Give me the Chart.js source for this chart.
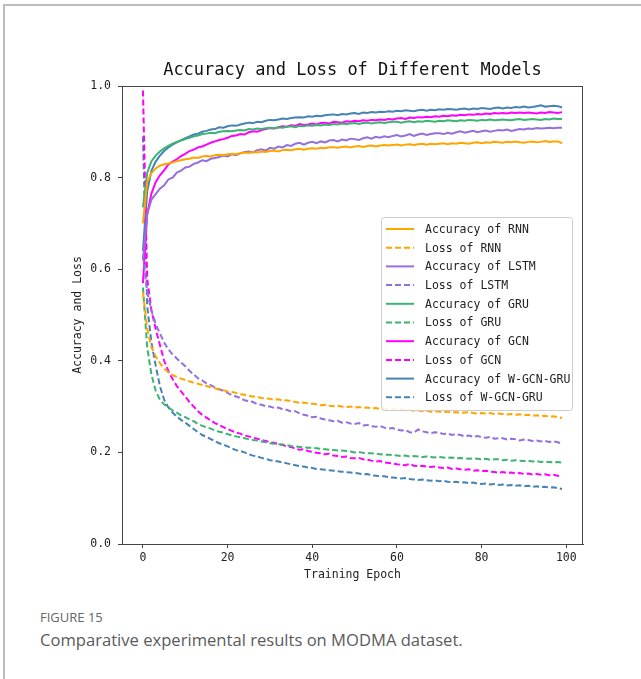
<!DOCTYPE html>
<html>
<head>
<meta charset="utf-8">
<script src="https://cdn.jsdelivr.net/npm/chart.js@4.4.1/dist/chart.umd.min.js"></script>
<style>
  html, body { margin: 0; padding: 0; background: #fff; }
  #page { position: relative; width: 641px; height: 679px; overflow: hidden; }
  #frame { position: absolute; left: 3px; top: 4px; width: 660px; height: 700px;
           border-left: 2px solid #bdbdbd; border-top: 2px solid #bdbdbd; }
  #chartBox { position: absolute; left: 0; top: 0; width: 641px; height: 600px; }
  .figno { position: absolute; left: 40px; top: 608px; font: 13px "Open Sans", sans-serif; color: #666; }
  .figcap { position: absolute; left: 40px; top: 628px; font: 16.6px "Open Sans", sans-serif; color: #5a5a5a; }
</style>
</head>
<body>
<div id="page">
  <div id="frame"></div>
  <div id="chartBox"><canvas id="lossChart" width="641" height="600"></canvas></div>
  <div class="figno">FIGURE 15</div>
  <div class="figcap">Comparative experimental results on MODMA dataset.</div>
</div>
<script>
// --- Data (epoch index = position in array) ---
const seriesNames = ['Accuracy of RNN', 'Loss of RNN', 'Accuracy of LSTM', 'Loss of LSTM',
    'Accuracy of GRU', 'Loss of GRU', 'Accuracy of GCN', 'Loss of GCN',
    'Accuracy of W-GCN-GRU', 'Loss of W-GCN-GRU'];
const xTicks = [0, 20, 40, 60, 80, 100];
const yTicks = [0.0, 0.2, 0.4, 0.6, 0.8, 1.0];

const accRNN = [
    0.700, 0.790, 0.810, 0.820, 0.826, 0.829, 0.831, 0.833, 0.836, 0.838,
    0.840, 0.841, 0.844, 0.843, 0.846, 0.847, 0.846, 0.849, 0.850, 0.849,
    0.851, 0.852, 0.851, 0.853, 0.855, 0.854, 0.856, 0.855, 0.857, 0.856,
    0.858, 0.859, 0.857, 0.860, 0.861, 0.860, 0.862, 0.863, 0.861, 0.863,
    0.864, 0.863, 0.865, 0.864, 0.866, 0.866, 0.865, 0.867, 0.868, 0.866,
    0.868, 0.869, 0.867, 0.869, 0.870, 0.868, 0.870, 0.871, 0.870, 0.871,
    0.872, 0.870, 0.872, 0.873, 0.871, 0.873, 0.874, 0.872, 0.874, 0.873,
    0.874, 0.875, 0.873, 0.875, 0.874, 0.876, 0.875, 0.874, 0.876, 0.877,
    0.875, 0.877, 0.876, 0.878, 0.877, 0.876, 0.878, 0.877, 0.879, 0.877,
    0.876, 0.878, 0.879, 0.877, 0.878, 0.880, 0.878, 0.879, 0.879, 0.875];
const lossRNN = [
    0.550, 0.470, 0.430, 0.410, 0.395, 0.383, 0.375, 0.369, 0.365, 0.361,
    0.358, 0.355, 0.352, 0.350, 0.347, 0.345, 0.342, 0.340, 0.337, 0.336,
    0.333, 0.332, 0.330, 0.327, 0.326, 0.323, 0.322, 0.321, 0.319, 0.318,
    0.317, 0.315, 0.316, 0.313, 0.314, 0.312, 0.310, 0.308, 0.309, 0.307,
    0.306, 0.305, 0.303, 0.304, 0.302, 0.301, 0.302, 0.300, 0.299, 0.300,
    0.298, 0.299, 0.297, 0.298, 0.296, 0.297, 0.295, 0.296, 0.294, 0.295,
    0.293, 0.294, 0.292, 0.293, 0.291, 0.292, 0.290, 0.291, 0.289, 0.290,
    0.289, 0.288, 0.289, 0.287, 0.288, 0.286, 0.287, 0.288, 0.286, 0.285,
    0.286, 0.285, 0.286, 0.284, 0.285, 0.284, 0.283, 0.284, 0.282, 0.283,
    0.281, 0.282, 0.280, 0.281, 0.279, 0.280, 0.278, 0.279, 0.277, 0.275];
const accLSTM = [
    0.620, 0.720, 0.752, 0.764, 0.776, 0.783, 0.796, 0.800, 0.811, 0.815,
    0.822, 0.824, 0.830, 0.833, 0.838, 0.836, 0.841, 0.843, 0.845, 0.848,
    0.846, 0.851, 0.849, 0.853, 0.856, 0.857, 0.855, 0.860, 0.862, 0.859,
    0.865, 0.863, 0.868, 0.866, 0.871, 0.869, 0.874, 0.876, 0.872, 0.876,
    0.878, 0.875, 0.879, 0.877, 0.881, 0.882, 0.879, 0.883, 0.881, 0.885,
    0.884, 0.882, 0.886, 0.888, 0.885, 0.889, 0.887, 0.890, 0.888, 0.891,
    0.893, 0.890, 0.892, 0.895, 0.891, 0.894, 0.896, 0.893, 0.895, 0.897,
    0.897, 0.895, 0.898, 0.896, 0.899, 0.901, 0.898, 0.900, 0.902, 0.899,
    0.901, 0.903, 0.900, 0.902, 0.904, 0.903, 0.905, 0.902, 0.904, 0.906,
    0.905, 0.907, 0.906, 0.908, 0.907, 0.908, 0.909, 0.908, 0.909, 0.909];
const lossLSTM = [
    0.630, 0.550, 0.510, 0.480, 0.460, 0.440, 0.425, 0.414, 0.405, 0.396,
    0.388, 0.378, 0.370, 0.362, 0.357, 0.351, 0.347, 0.342, 0.338, 0.334,
    0.330, 0.325, 0.322, 0.319, 0.314, 0.312, 0.310, 0.305, 0.304, 0.301,
    0.300, 0.297, 0.298, 0.294, 0.293, 0.289, 0.290, 0.285, 0.282, 0.280,
    0.277, 0.278, 0.274, 0.272, 0.270, 0.268, 0.269, 0.265, 0.266, 0.263,
    0.262, 0.264, 0.259, 0.260, 0.257, 0.256, 0.258, 0.254, 0.252, 0.253,
    0.250, 0.248, 0.249, 0.244, 0.243, 0.250, 0.246, 0.244, 0.242, 0.244,
    0.243, 0.240, 0.241, 0.238, 0.240, 0.238, 0.235, 0.237, 0.234, 0.236,
    0.233, 0.232, 0.234, 0.230, 0.231, 0.231, 0.228, 0.230, 0.229, 0.226,
    0.228, 0.227, 0.225, 0.226, 0.224, 0.225, 0.223, 0.224, 0.222, 0.219];
const accGRU = [
    0.735, 0.810, 0.836, 0.848, 0.857, 0.864, 0.869, 0.874, 0.878, 0.881,
    0.884, 0.887, 0.890, 0.892, 0.895, 0.896, 0.898, 0.897, 0.900, 0.901,
    0.902, 0.901, 0.903, 0.904, 0.903, 0.906, 0.905, 0.907, 0.906, 0.908,
    0.909, 0.908, 0.910, 0.909, 0.911, 0.912, 0.910, 0.913, 0.912, 0.914,
    0.913, 0.915, 0.914, 0.916, 0.915, 0.917, 0.916, 0.918, 0.917, 0.918,
    0.919, 0.917, 0.919, 0.920, 0.918, 0.920, 0.921, 0.919, 0.921, 0.922,
    0.922, 0.920, 0.922, 0.923, 0.921, 0.923, 0.922, 0.924, 0.923, 0.922,
    0.924, 0.923, 0.925, 0.924, 0.923, 0.925, 0.924, 0.926, 0.925, 0.924,
    0.926, 0.925, 0.927, 0.925, 0.926, 0.927, 0.926, 0.925, 0.927, 0.928,
    0.926, 0.927, 0.928, 0.927, 0.926, 0.928, 0.927, 0.929, 0.928, 0.928];
const lossGRU = [
    0.560, 0.430, 0.370, 0.335, 0.315, 0.305, 0.298, 0.292, 0.287, 0.281,
    0.277, 0.272, 0.268, 0.262, 0.258, 0.255, 0.252, 0.248, 0.245, 0.243,
    0.240, 0.237, 0.235, 0.233, 0.231, 0.229, 0.227, 0.226, 0.224, 0.222,
    0.220, 0.219, 0.218, 0.217, 0.216, 0.214, 0.213, 0.212, 0.211, 0.210,
    0.210, 0.209, 0.208, 0.207, 0.206, 0.205, 0.204, 0.204, 0.203, 0.202,
    0.200, 0.201, 0.199, 0.198, 0.198, 0.197, 0.196, 0.195, 0.195, 0.194,
    0.193, 0.192, 0.193, 0.191, 0.192, 0.191, 0.190, 0.191, 0.190, 0.189,
    0.190, 0.189, 0.188, 0.189, 0.187, 0.188, 0.187, 0.186, 0.187, 0.186,
    0.185, 0.186, 0.184, 0.185, 0.185, 0.183, 0.184, 0.182, 0.183, 0.182,
    0.181, 0.182, 0.180, 0.181, 0.179, 0.180, 0.179, 0.178, 0.179, 0.178];
const accGCN = [
    0.570, 0.720, 0.765, 0.790, 0.805, 0.816, 0.829, 0.835, 0.840, 0.847,
    0.852, 0.858, 0.861, 0.866, 0.868, 0.872, 0.876, 0.879, 0.882, 0.884,
    0.887, 0.891, 0.892, 0.895, 0.894, 0.899, 0.901, 0.900, 0.904, 0.906,
    0.908, 0.907, 0.910, 0.912, 0.911, 0.914, 0.913, 0.917, 0.915, 0.916,
    0.918, 0.916, 0.919, 0.920, 0.918, 0.922, 0.921, 0.920, 0.923, 0.922,
    0.924, 0.923, 0.925, 0.924, 0.926, 0.925, 0.927, 0.926, 0.928, 0.927,
    0.929, 0.930, 0.928, 0.931, 0.930, 0.932, 0.931, 0.933, 0.932, 0.934,
    0.933, 0.935, 0.934, 0.936, 0.935, 0.937, 0.936, 0.938, 0.937, 0.939,
    0.938, 0.940, 0.939, 0.941, 0.940, 0.941, 0.940, 0.942, 0.941, 0.942,
    0.941, 0.942, 0.941, 0.940, 0.942, 0.941, 0.943, 0.942, 0.941, 0.943];
const lossGCN = [
    0.990, 0.580, 0.510, 0.470, 0.435, 0.400, 0.378, 0.360, 0.345, 0.333,
    0.322, 0.310, 0.300, 0.290, 0.282, 0.276, 0.270, 0.264, 0.260, 0.255,
    0.251, 0.247, 0.243, 0.241, 0.237, 0.235, 0.232, 0.230, 0.227, 0.225,
    0.222, 0.221, 0.218, 0.216, 0.213, 0.212, 0.208, 0.206, 0.207, 0.203,
    0.201, 0.199, 0.198, 0.196, 0.197, 0.193, 0.192, 0.190, 0.191, 0.188,
    0.187, 0.188, 0.185, 0.184, 0.182, 0.180, 0.181, 0.178, 0.177, 0.176,
    0.174, 0.173, 0.172, 0.175, 0.171, 0.170, 0.171, 0.169, 0.168, 0.169,
    0.167, 0.166, 0.167, 0.164, 0.165, 0.163, 0.162, 0.163, 0.160, 0.161,
    0.159, 0.160, 0.158, 0.157, 0.156, 0.157, 0.155, 0.156, 0.154, 0.155,
    0.153, 0.154, 0.152, 0.153, 0.151, 0.152, 0.150, 0.151, 0.149, 0.148];
const accWGCNGRU = [
    0.640, 0.770, 0.815, 0.835, 0.848, 0.858, 0.866, 0.872, 0.877, 0.882,
    0.886, 0.890, 0.894, 0.896, 0.900, 0.902, 0.905, 0.906, 0.910, 0.909,
    0.912, 0.914, 0.913, 0.916, 0.918, 0.920, 0.919, 0.922, 0.921, 0.924,
    0.926, 0.925, 0.927, 0.929, 0.928, 0.930, 0.931, 0.932, 0.931, 0.934,
    0.933, 0.935, 0.934, 0.936, 0.937, 0.938, 0.936, 0.939, 0.938, 0.940,
    0.941, 0.939, 0.942, 0.941, 0.943, 0.942, 0.944, 0.943, 0.945, 0.944,
    0.946, 0.945, 0.947, 0.946, 0.945, 0.947, 0.948, 0.946, 0.948, 0.947,
    0.949, 0.948, 0.950, 0.949, 0.948, 0.950, 0.951, 0.949, 0.951, 0.950,
    0.952, 0.951, 0.950, 0.952, 0.953, 0.951, 0.953, 0.952, 0.954, 0.953,
    0.955, 0.953, 0.954, 0.956, 0.958, 0.955, 0.956, 0.957, 0.956, 0.953];
const lossWGCNGRU = [
    0.890, 0.520, 0.440, 0.390, 0.345, 0.315, 0.298, 0.287, 0.278, 0.271,
    0.265, 0.258, 0.251, 0.244, 0.238, 0.234, 0.229, 0.225, 0.220, 0.217,
    0.213, 0.209, 0.205, 0.203, 0.200, 0.196, 0.193, 0.191, 0.188, 0.186,
    0.183, 0.182, 0.180, 0.178, 0.176, 0.174, 0.172, 0.170, 0.169, 0.167,
    0.166, 0.164, 0.163, 0.162, 0.161, 0.160, 0.159, 0.158, 0.157, 0.156,
    0.155, 0.154, 0.152, 0.153, 0.150, 0.149, 0.148, 0.148, 0.146, 0.145,
    0.144, 0.143, 0.144, 0.142, 0.141, 0.140, 0.141, 0.139, 0.138, 0.139,
    0.137, 0.138, 0.136, 0.135, 0.136, 0.134, 0.135, 0.133, 0.134, 0.132,
    0.131, 0.132, 0.130, 0.131, 0.129, 0.130, 0.128, 0.129, 0.127, 0.128,
    0.126, 0.127, 0.125, 0.126, 0.124, 0.125, 0.123, 0.124, 0.122, 0.120];

const seriesValues = [accRNN, lossRNN, accLSTM, lossLSTM, accGRU, lossGRU,
    accGCN, lossGCN, accWGCNGRU, lossWGCNGRU];
const seriesColors = ['#ffa500', '#ffa500', '#9370db', '#9370db', '#3cb371', '#3cb371',
    '#ff00ff', '#ff00ff', '#4682b4', '#4682b4'];

const MONO = '"DejaVu Sans Mono", monospace';

// --- Plugins ---
const framePlugin = {
    id: 'frame',
    afterDatasetsDraw(chart) {
        const { ctx, chartArea: a } = chart;
        ctx.save();
        ctx.strokeStyle = '#444';
        ctx.lineWidth = 1;
        ctx.strokeRect(a.left + 0.5, a.top + 0.5, a.right - a.left - 1, a.bottom - a.top);
        ctx.restore();
    }
};

const titlePlugin = {
    id: 'plotTitle',
    afterDraw(chart) {
        const { ctx, chartArea: a } = chart;
        ctx.save();
        ctx.font = '17px ' + MONO;
        ctx.fillStyle = '#111';
        ctx.textAlign = 'center';
        ctx.textBaseline = 'middle';
        ctx.fillText('Accuracy and Loss of Different Models', (a.left + a.right) / 2, 71);
        ctx.restore();
    }
};

// legend drawn inside the plot like matplotlib's 'center right'
const innerLegend = {
    id: 'innerLegend',
    afterDraw(chart) {
        const { ctx, chartArea: a } = chart;
        const x = a.right - 202, y = a.top + 131, w = 191, h = 193;
        ctx.save();
        ctx.fillStyle = 'rgba(255,255,255,0.85)';
        ctx.strokeStyle = '#cccccc';
        ctx.lineWidth = 1;
        ctx.beginPath();
        ctx.roundRect(x + 0.5, y + 0.5, w, h, 3);
        ctx.fill();
        ctx.stroke();
        ctx.font = '11.5px ' + MONO;
        ctx.textBaseline = 'middle';
        ctx.fillStyle = '#222';
        chart.data.datasets.forEach((ds, i) => {
            const ry = y + 12 + i * 18.7;
            ctx.strokeStyle = ds.borderColor;
            ctx.lineWidth = 2;
            ctx.setLineDash(ds.borderDash || []);
            ctx.beginPath();
            ctx.moveTo(x + 5, ry);
            ctx.lineTo(x + 33, ry);
            ctx.stroke();
            ctx.setLineDash([]);
            ctx.fillText(ds.label, x + 44, ry + 1);
        });
        ctx.restore();
    }
};

// --- Chart ---
const datasets = seriesNames.map((name, i) => ({
    label: name,
    data: seriesValues[i].map((v, ep) => ({ x: ep, y: v })),
    borderColor: seriesColors[i],
    borderWidth: 2,
    borderDash: i % 2 === 1 ? [6, 3] : [],
    pointRadius: 0,
    tension: 0,
    fill: false
}));

new Chart(document.getElementById('lossChart'), {
    type: 'line',
    data: { datasets },
    plugins: [framePlugin, titlePlugin, innerLegend],
    options: {
        responsive: false,
        devicePixelRatio: 1,
        animation: false,
        layout: { padding: { left: 0, right: 58, top: 86, bottom: 0 } },
        plugins: { legend: { display: false }, tooltip: { enabled: false } },
        scales: {
            x: {
                type: 'linear',
                min: -4.95,
                max: 103.95,
                afterFit: (s) => { s.height = 56; },
                afterBuildTicks: (s) => { s.ticks = xTicks.map(v => ({ value: v })); },
                ticks: { font: { family: MONO, size: 11.5 }, color: '#222', padding: 3, maxRotation: 0 },
                grid: { drawOnChartArea: false, drawTicks: true, tickLength: 4, color: '#444' },
                border: { display: true, color: '#444', width: 1 },
                title: { display: true, text: 'Training Epoch', color: '#222',
                         font: { family: MONO, size: 11.5 }, padding: { top: 0, bottom: 18 } }
            },
            y: {
                min: 0,
                max: 1,
                afterFit: (s) => { s.width = 122; },
                afterBuildTicks: (s) => { s.ticks = yTicks.map(v => ({ value: v })); },
                ticks: { font: { family: MONO, size: 11.5 }, color: '#222', padding: 7,
                         callback: (v) => Number(v).toFixed(1) },
                grid: { drawOnChartArea: false, drawTicks: true, tickLength: 4, color: '#444' },
                border: { display: true, color: '#444', width: 1 },
                title: { display: true, text: 'Accuracy and Loss', color: '#222',
                         font: { family: MONO, size: 11.5 }, padding: { top: 71, bottom: 0 } }
            }
        }
    }
});
</script>
</body>
</html>
